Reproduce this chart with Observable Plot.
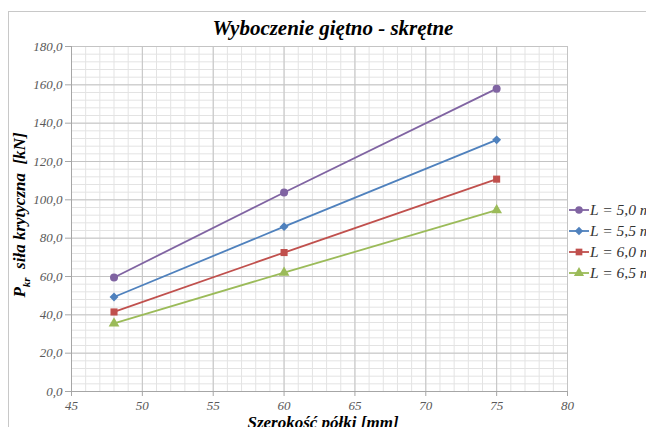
<!DOCTYPE html>
<html><head><meta charset="utf-8">
<script src="https://cdn.jsdelivr.net/npm/d3@7"></script>
<script src="https://cdn.jsdelivr.net/npm/@observablehq/plot@0.6"></script>
<style>
html,body{margin:0;padding:0;background:#fff;overflow:hidden;width:646px;height:427px}
#wrap{position:relative;width:646px;height:427px;font-family:'Liberation Serif',serif}
#frame{position:absolute;left:8px;top:11px;width:700px;height:500px;border:1px solid #c8c8c8;box-sizing:border-box}
#chart{position:absolute;left:0;top:0}
#chart svg text{font-family:'Liberation Serif',serif;font-style:italic}
#title{position:absolute;left:0;width:666px;top:16px;line-height:24px;text-align:center;font-weight:bold;font-style:italic;font-size:21px;color:#000}
#ylab{position:absolute;left:23px;top:215px;transform:translate(-50%,-50%) rotate(-90deg);white-space:nowrap;font-weight:bold;font-style:italic;font-size:17px;line-height:20px}
#ylab sub{font-size:11px}
#xlab{position:absolute;left:75px;width:496px;top:414px;line-height:18px;text-align:center;font-weight:bold;font-style:italic;font-size:17px}
#legend{position:absolute;left:569px;top:199px}
.li{display:flex;align-items:center;height:21px;white-space:nowrap;font-style:italic;font-size:15.5px;color:#333}
.li svg{margin-right:1px}
</style></head>
<body><div id="wrap">
<div id="frame"></div>
<div id="chart"></div>
<div id="title">Wyboczenie giętno - skrętne</div>
<div id="ylab">P<sub>kr</sub>&nbsp; siła krytyczna&nbsp; [kN]</div>
<div id="xlab">Szerokość półki [mm]</div>
<div id="legend"></div>
</div>
<script>
const widths = [48, 60, 75];
const seriesNames = ["L = 5,0 m", "L = 5,5 m", "L = 6,0 m", "L = 6,5 m"];
const seriesColors = ["#8064A2", "#4F81BD", "#C0504D", "#9BBB59"];
const seriesSymbols = ["circle", "diamond2", "square", "triangle"];
const p50 = [59.5, 103.8, 158.0];
const p55 = [49.3, 86.0, 131.3];
const p60 = [41.5, 72.5, 110.8];
const p65 = [35.5, 62.0, 94.6];
const xTicks = [45, 50, 55, 60, 65, 70, 75, 80];
const yTicks = [0, 20, 40, 60, 80, 100, 120, 140, 160, 180];

const values = [p50, p55, p60, p65];
const data = [];
seriesNames.forEach((s, i) => widths.forEach((w, j) => data.push({s, x: w, y: values[i][j]})));

const minorX = d3.range(45, 81, 1);
const minorY = d3.range(0, 181, 4);
const color = {domain: seriesNames, range: seriesColors};
const symbol = {domain: seriesNames, range: seriesSymbols};

const chart = Plot.plot({
  width: 646, height: 427,
  marginLeft: 71, marginRight: 79, marginTop: 46, marginBottom: 36,
  x: {domain: [45, 80]},
  y: {domain: [0, 180]},
  color, symbol,
  style: {background: "transparent", fontSize: "13px", fontFamily: "'Liberation Serif', serif", fontStyle: "italic"},
  marks: [
    Plot.gridX(minorX, {stroke: "#e3e3e3", strokeOpacity: 1}),
    Plot.gridY(minorY, {stroke: "#e3e3e3", strokeOpacity: 1}),
    Plot.gridX(xTicks, {stroke: "#c4c4c4", strokeOpacity: 1}),
    Plot.gridY(yTicks, {stroke: "#c4c4c4", strokeOpacity: 1}),
    Plot.ruleX([45], {stroke: "#a6a6a6"}),
    Plot.ruleY([0], {stroke: "#a6a6a6"}),
    Plot.axisY(yTicks, {tickFormat: d => d.toFixed(1).replace(".", ","), tickSize: 6, tickPadding: 3, stroke: "#a6a6a6", fill: "#595959", label: null}),
    Plot.axisX(xTicks, {tickFormat: d => String(d), tickSize: 5, tickPadding: 4, stroke: "#a6a6a6", fill: "#595959", label: null}),
    Plot.line(data, {x: "x", y: "y", z: "s", stroke: "s", strokeWidth: 1.8}),
    Plot.dot(data, {x: "x", y: "y", fill: "s", symbol: "s", stroke: null, r: 4})
  ]
});
document.getElementById("chart").appendChild(chart);

const leg = document.getElementById("legend");
const symGen = {circle: d3.symbolCircle, diamond2: d3.symbolDiamond2, square: d3.symbolSquare, triangle: d3.symbolTriangle};
seriesNames.forEach((s, i) => {
  const row = document.createElement("div");
  row.className = "li";
  const path = d3.symbol(symGen[seriesSymbols[i]], 45)();
  row.innerHTML = `<svg width="20" height="12"><line x1="0" x2="20" y1="6" y2="6" stroke="${seriesColors[i]}" stroke-width="1.8"/><path transform="translate(10,6)" d="${path}" fill="${seriesColors[i]}"/></svg><span>${s}</span>`;
  leg.appendChild(row);
});
</script>
</body></html>
